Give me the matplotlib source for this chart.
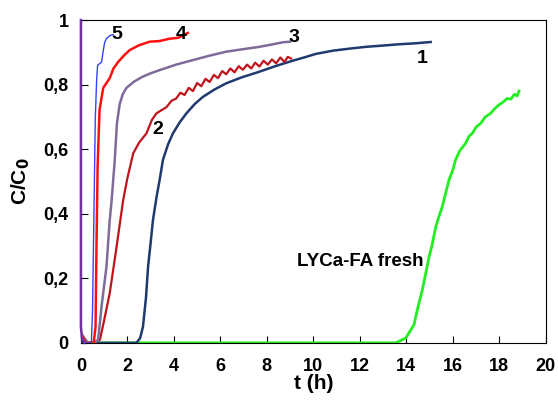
import matplotlib
matplotlib.use("Agg")
import matplotlib.pyplot as plt
from matplotlib.ticker import FuncFormatter

plt.rcParams['font.family'] = ['Liberation Sans', 'DejaVu Sans']
plt.rcParams['font.weight'] = 'bold'

# Curve 1 (navy)
t1 = [0.0, 1.0, 2.0, 2.39, 2.55, 2.67, 2.8, 2.89, 3.0, 3.1, 3.25, 3.4, 3.53, 3.75, 3.96, 4.25, 4.54, 4.9, 5.25,
      5.75, 6.25, 6.9, 7.68, 8.4, 9.11, 9.6, 10.1, 10.83, 11.5, 12.26, 13.0, 13.69, 14.4, 15.05]
c1 = [0.0, 0.0, 0.0, 0.0, 0.015, 0.05, 0.14, 0.236, 0.31, 0.38, 0.45, 0.51, 0.567, 0.615, 0.649, 0.683, 0.711, 0.74, 0.762,
      0.785, 0.804, 0.822, 0.84, 0.858, 0.874, 0.884, 0.895, 0.905, 0.911, 0.917, 0.921, 0.925, 0.928, 0.932]

# Curve 2 (dark red, wavy)
t2 = [0.0, 0.15, 0.5, 0.82, 1.0, 1.24, 1.5, 1.82, 2.0, 2.25, 2.5, 2.82, 3.05, 3.25, 3.45, 3.68, 3.9, 4.1,
      4.28, 4.46, 4.64, 4.82, 5.0, 5.18, 5.36, 5.54, 5.72, 5.9, 6.08, 6.25, 6.43, 6.61, 6.79, 6.97,
      7.15, 7.33, 7.5, 7.68, 7.86, 8.04, 8.22, 8.4, 8.58, 8.76, 8.9, 9.04]
c2 = [0.03, 0.0, 0.0, 0.01, 0.07, 0.154, 0.28, 0.443, 0.51, 0.587, 0.62, 0.649, 0.69, 0.711, 0.72, 0.73, 0.75, 0.757,
      0.775, 0.768, 0.79, 0.78, 0.805, 0.795, 0.818, 0.808, 0.83, 0.82, 0.842, 0.832, 0.85, 0.838, 0.857, 0.846,
      0.862, 0.85, 0.868, 0.856, 0.874, 0.862, 0.878, 0.866, 0.884, 0.87, 0.886, 0.881]

# Curve 3 (purple-grey)
t3 = [0.0, 0.3, 0.6, 0.74, 0.9, 1.1, 1.24, 1.32, 1.45, 1.55, 1.67, 1.8, 1.96, 2.3, 2.67, 3.0, 3.39, 4.1, 4.82,
      5.5, 6.25, 7.0, 7.68, 8.2, 8.68, 9.0]
c3 = [0.03, 0.0, 0.0, 0.01, 0.12, 0.236, 0.38, 0.44, 0.56, 0.68, 0.74, 0.77, 0.79, 0.81, 0.825, 0.835, 0.845, 0.862, 0.876,
      0.889, 0.902, 0.91, 0.917, 0.924, 0.931, 0.933]

# Curve 4 (red)
t4 = [0.0, 0.2, 0.55, 0.63, 0.67, 0.72, 0.8, 0.96, 1.1, 1.24, 1.4, 1.6, 1.85, 2.1, 2.5, 2.96, 3.39, 3.8, 4.18, 4.6]
c4 = [0.03, 0.0, 0.0, 0.05, 0.3, 0.55, 0.72, 0.79, 0.805, 0.82, 0.85, 0.87, 0.89, 0.907, 0.922, 0.933, 0.935, 0.942, 0.945, 0.96]

# Curve 5 (blue)
t5 = [0.0, 0.2, 0.45, 0.5, 0.57, 0.62, 0.68, 0.72, 0.89, 0.95, 1.02, 1.1, 1.25, 1.39]
c5 = [0.02, 0.0, 0.0, 0.1, 0.45, 0.7, 0.82, 0.86, 0.87, 0.9, 0.93, 0.943, 0.952, 0.955]

# Curve at t=0 (purple)
t0 = [0.0, 0.0, 0.05, 0.15]
c0 = [1.0, 0.05, 0.01, 0.0]

# Fresh (green)
tg = [0.0, 2.4, 13.55, 13.98, 14.33, 14.5, 14.69, 14.85, 14.98, 15.1, 15.27, 15.4, 15.55, 15.62, 15.84, 16.0, 16.12,
      16.3, 16.55, 16.7, 16.84, 17.0, 17.2, 17.4, 17.63, 17.8, 17.98, 18.15, 18.34, 18.5, 18.65, 18.77, 18.85]
cg = [0.0, 0.0, 0.0, 0.015, 0.056, 0.11, 0.164, 0.22, 0.267, 0.3, 0.36, 0.39, 0.422, 0.443, 0.505, 0.535, 0.567,
      0.595, 0.618, 0.64, 0.649, 0.668, 0.68, 0.70, 0.711, 0.725, 0.737, 0.745, 0.757, 0.755, 0.77, 0.765, 0.78]

labels = ['1', '2', '3', '4', '5']

fig = plt.figure(figsize=(5.58, 4.01), dpi=100)
ax = fig.add_axes([0.145, 0.145, 0.833, 0.805])

ax.plot(tg, cg, color='#22EE22', lw=2.0, zorder=2)
ax.plot(t1, c1, color='#1F3A6E', lw=1.8, zorder=3)
ax.plot(t2, c2, color='#C0141C', lw=1.6, zorder=3)
ax.plot(t3, c3, color='#7F6A9A', lw=1.8, zorder=3)
ax.plot(t4, c4, color='#FF1010', lw=1.8, zorder=3)
ax.plot(t5, c5, color='#3344FF', lw=1.0, zorder=3)
ax.plot(t0, c0, color='#7030A0', lw=1.8, zorder=4, clip_on=False)

ax.set_xlim(0, 20)
ax.set_ylim(0, 1)
ax.set_xticks(range(0, 21, 2))
ax.set_yticks([0, 0.2, 0.4, 0.6, 0.8, 1.0])
ax.yaxis.set_major_formatter(FuncFormatter(lambda v, p: ('%g' % round(v, 1)).replace('.', ',')))
ax.tick_params(direction='in', length=5, labelsize=13)
ax.tick_params(axis='x', pad=11)
ax.tick_params(axis='y', pad=9)
for lab in ax.get_xticklabels() + ax.get_yticklabels():
    lab.set_fontweight('bold')

ax.set_xlabel('t (h)', fontsize=15, fontweight='bold', labelpad=-1)
ax.set_ylabel('C/C$_\\mathbf{0}$', fontsize=15, fontweight='bold', labelpad=8)

fs = 14
ax.text(1.55, 0.955, labels[4], fontsize=fs, fontweight='bold', ha='center', va='center')
ax.text(4.3, 0.955, labels[3], fontsize=fs, fontweight='bold', ha='center', va='center')
ax.text(9.15, 0.945, labels[2], fontsize=fs, fontweight='bold', ha='center', va='center')
ax.text(3.3, 0.66, labels[1], fontsize=fs, fontweight='bold', ha='center', va='center')
ax.text(14.7, 0.882, labels[0], fontsize=fs, fontweight='bold', ha='center', va='center')
ax.text(12.0, 0.253, 'LYCa-FA fresh', fontsize=13.5, fontweight='bold', ha='center', va='center')

fig.savefig('out.png', dpi=100)
